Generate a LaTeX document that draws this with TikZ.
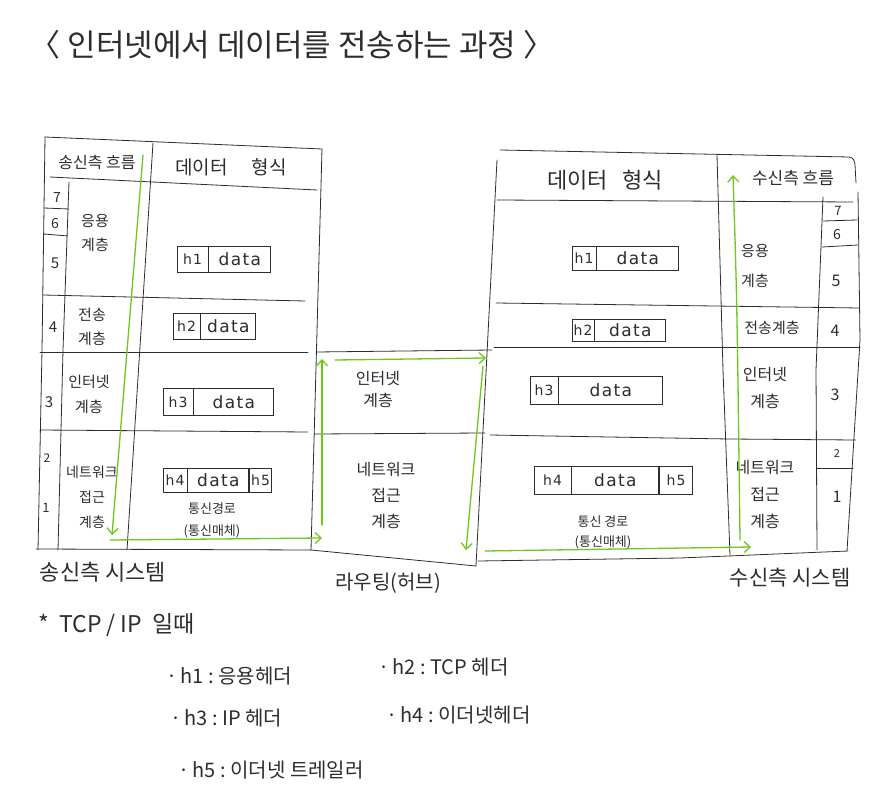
\documentclass[tikz,border=0pt]{standalone}
\usepackage{fontspec}
\setmainfont{Noto Sans CJK KR}
\newfontfamily\boxfont{DejaVu Sans}[LetterSpace=8]
\usetikzlibrary{arrows.meta}
\definecolor{ink}{RGB}{45,45,45}
\definecolor{flow}{RGB}{108,200,28}
\tikzset{
  rule/.style={draw=ink, line width=0.8pt, line cap=round, line join=round},
  flowarrow/.style={draw=flow, line width=1.3pt, line cap=round, -{Straight Barb[length=6pt,width=11pt]}},
  txt/.style={text=ink, inner sep=0pt, align=center},
  dcell/.style={draw=ink, line width=0.8pt, inner sep=0pt, text=ink, font=\boxfont\fontsize{14}{14}\selectfont},
  dwide/.style={dcell, font=\boxfont\fontsize{17}{17}\selectfont},
}
\begin{document}
\begin{tikzpicture}[x=1pt,y=-1pt]
\path[use as bounding box, fill=white] (0,0) rectangle (883,805);

% ---------- title ----------
\node[txt, font=\fontsize{31}{31}\selectfont] (title) at (292,45) {〈 인터넷에서 데이터를 전송하는 과정 〉};

% ---------- left table (sender) ----------
\draw[rule] (45,137) -- (322,149);
\draw[rule] (45,137) -- (42,350) -- (38,550);
\draw[rule] (50,177) -- (317,190);
\draw[rule] (69,182) -- (63,350) -- (58,550);
\draw[rule] (153,143) -- (127,550);
\draw[rule] (322,149) -- (311,550);
\draw[rule] (44,208) -- (69,209);
\draw[rule] (44,234) -- (68,236);
\draw[rule] (43,295) -- (305,301);
\draw[rule] (40,352) -- (308,352);
\draw[rule] (40,430) -- (308,432);
\draw[rule] (36,549) -- (311,550);

\node[txt, font=\fontsize{16}{16}\selectfont] (lhflow) at (97,162) {송신측 흐름};
\node[txt, font=\fontsize{19}{19}\selectfont] (lhdata) at (231,167) {데이터\hspace{24pt}형식};

\node[txt, font=\fontsize{14}{14}\selectfont] (ln7) at (57,198) {7};
\node[txt, font=\fontsize{14}{14}\selectfont] (ln6) at (55,224) {6};
\node[txt, font=\fontsize{15}{15}\selectfont] (ln5) at (55,263) {5};
\node[txt, font=\fontsize{15}{15}\selectfont] (ln4) at (53,327) {4};
\node[txt, font=\fontsize{15}{15}\selectfont] (ln3) at (49,402) {3};
\node[txt, font=\fontsize{12}{12}\selectfont] (ln2) at (47,458) {2};
\node[txt, font=\fontsize{13}{13}\selectfont] (ln1) at (46,508) {1};

\node[txt, font=\fontsize{15}{24}\selectfont] (lapp) at (95,233) {응용\\계층};
\node[txt, font=\fontsize{15}{24}\selectfont] (ltrn) at (92,327) {전송\\계층};
\node[txt, font=\fontsize{15}{25}\selectfont] (lnet) at (89,394) {인터넷\\계층};
\node[txt, font=\fontsize{14}{25}\selectfont] (llnk) at (92,497) {네트워크\\접근\\계층};

\node[dcell, minimum width=31pt, minimum height=26pt] (b1h) at (192.5,259) {h1};
\node[dwide, minimum width=62pt, minimum height=26pt, anchor=west] (b1d) at (b1h.east) {data};
\node[dcell, minimum width=27pt, minimum height=26pt] (b2h) at (186.5,326) {h2};
\node[dwide, minimum width=55pt, minimum height=26pt, anchor=west] (b2d) at (b2h.east) {data};
\node[dcell, minimum width=30pt, minimum height=27pt] (b3h) at (178,402) {h3};
\node[dwide, minimum width=80pt, minimum height=27pt, anchor=west] (b3d) at (b3h.east) {data};
\node[dcell, minimum width=24pt, minimum height=24pt] (b4h) at (175,480) {h4};
\node[dwide, minimum width=61pt, minimum height=24pt, anchor=west] (b4d) at (b4h.east) {data};
\node[dcell, minimum width=22pt, minimum height=24pt, anchor=west] (b4t) at (b4d.east) {h5};
\node[txt, font=\fontsize{13}{22}\selectfont] (lmed) at (212,520) {통신경로\\(통신매체)};

\node[txt, font=\fontsize{22}{22}\selectfont] (lsys) at (103,572) {송신측 시스템};

% ---------- middle box (router) ----------
\draw[rule] (316,352) -- (492,350);
\draw[rule] (314,434) -- (485,433);
\draw[rule] (311,550) -- (476,566);
\draw[rule] (497,160) -- (476,566);

\node[txt, font=\fontsize{16}{22}\selectfont] (mnet) at (378,390) {인터넷\\계층};
\node[txt, font=\fontsize{16}{26}\selectfont] (mlnk) at (386,496) {네트워크\\접근\\계층};
\node[txt, font=\fontsize{20}{20}\selectfont] (msys) at (388,583) {라우팅(허브)};

% ---------- right table (receiver) ----------
\draw[rule] (500,150) -- (849,157) to[out=0,in=90] (855,165) -- (856,183);
\draw[rule] (858,192) -- (860,340) -- (847,551);
\draw[rule] (497,200) -- (853,202);
\draw[rule] (717,155) -- (723,370) -- (730,555);
\draw[rule] (823,197) -- (816,370) -- (817,550);
\draw[rule] (823,221) -- (857,220);
\draw[rule] (822,247) -- (858,245);
\draw[rule] (496,303) -- (860,308);
\draw[rule] (494,347) -- (860,347);
\draw[rule] (490,435) -- (729,439) -- (856,440);
\draw[rule] (817,468) -- (853,468);
\draw[rule] (478,561) -- (680,558) -- (848,551);

\node[txt, font=\fontsize{22}{22}\selectfont] (rhdata) at (605,180) {데이터\hspace{14pt}형식};
\node[txt, font=\fontsize{17}{17}\selectfont] (rhflow) at (793,178) {수신측 흐름};

\node[txt, font=\fontsize{13}{13}\selectfont] (rn7) at (838,211) {7};
\node[txt, font=\fontsize{14}{14}\selectfont] (rn6) at (837,235) {6};
\node[txt, font=\fontsize{16}{16}\selectfont] (rn5) at (836,281) {5};
\node[txt, font=\fontsize{16}{16}\selectfont] (rn4) at (835,331) {4};
\node[txt, font=\fontsize{16}{16}\selectfont] (rn3) at (835,395) {3};
\node[txt, font=\fontsize{11}{11}\selectfont] (rn2) at (837,454) {2};
\node[txt, font=\fontsize{16}{16}\selectfont] (rn1) at (837,497) {1};

\node[txt, font=\fontsize{15}{30}\selectfont] (rapp) at (755,266) {응용\\계층};
\node[txt, font=\fontsize{15}{15}\selectfont] (rtrn) at (772,328) {전송계층};
\node[txt, font=\fontsize{16}{27}\selectfont] (rnet) at (765,388) {인터넷\\계층};
\node[txt, font=\fontsize{16}{27}\selectfont] (rlnk) at (765,495) {네트워크\\접근\\계층};

\node[dcell, minimum width=24pt, minimum height=24pt] (r1h) at (584,258) {h1};
\node[dwide, minimum width=82pt, minimum height=24pt, anchor=west] (r1d) at (r1h.east) {data};
\node[dcell, minimum width=22pt, minimum height=22pt] (r2h) at (583,330) {h2};
\node[dwide, minimum width=71pt, minimum height=22pt, anchor=west] (r2d) at (r2h.east) {data};
\node[dcell, minimum width=28pt, minimum height=28pt] (r3h) at (544,390) {h3};
\node[dwide, minimum width=104pt, minimum height=28pt, anchor=west] (r3d) at (r3h.east) {data};
\node[dcell, minimum width=37pt, minimum height=28pt] (r4h) at (552.5,480) {h4};
\node[dwide, minimum width=87pt, minimum height=28pt, anchor=west] (r4d) at (r4h.east) {data};
\node[dcell, minimum width=33pt, minimum height=28pt, anchor=west] (r4t) at (r4d.east) {h5};
\node[txt, font=\fontsize{13}{20}\selectfont] (rmed) at (603,532) {통신 경로\\(통신매체)};

\node[txt, font=\fontsize{21}{21}\selectfont] (rsys) at (790,578) {수신측 시스템};

% ---------- green flow ----------
\coordinate (f1) at (143,155);
\coordinate (f2) at (112,535);
\coordinate (f3) at (110,540);
\coordinate (f4) at (322,538);
\coordinate (f5) at (322,525);
\coordinate (f6) at (322,359);
\coordinate (f7) at (335,360);
\coordinate (f8) at (486,358);
\coordinate (f9) at (483,366);
\coordinate (f10) at (466,550);
\coordinate (f11) at (485,551);
\coordinate (f12) at (751,547);
\coordinate (f13) at (740,540);
\coordinate (f14) at (733,175);
\draw[flowarrow] (f1) -- (f2);
\draw[flowarrow] (f3) -- (f4);
\draw[flowarrow] (f5) -- (f6);
\draw[flowarrow] (f7) -- (f8);
\draw[flowarrow] (f9) -- (f10);
\draw[flowarrow] (f11) -- (f12);
\draw[flowarrow] (f13) .. controls (737,300) .. (f14);

% ---------- legend ----------
\node[txt, anchor=west, font=\fontsize{23}{23}\selectfont] (g0) at (38,625) {*\ \ TCP\ /\ IP\ \ 일때};
\node[txt, anchor=west, font=\fontsize{20}{20}\selectfont] (g1) at (166,676) {·\,h1\ :\ 응용헤더};
\node[txt, anchor=west, font=\fontsize{20}{20}\selectfont] (g2) at (378,667) {·\,h2\ :\ TCP\ 헤더};
\node[txt, anchor=west, font=\fontsize{20}{20}\selectfont] (g3) at (170,718) {·\,h3\ :\ IP\ 헤더};
\node[txt, anchor=west, font=\fontsize{20}{20}\selectfont] (g4) at (386,715) {·\,h4\ :\ 이더넷헤더};
\node[txt, anchor=west, font=\fontsize{20}{20}\selectfont] (g5) at (178,770) {·\,h5\ :\ 이더넷\ 트레일러};
\end{tikzpicture}
\end{document}
